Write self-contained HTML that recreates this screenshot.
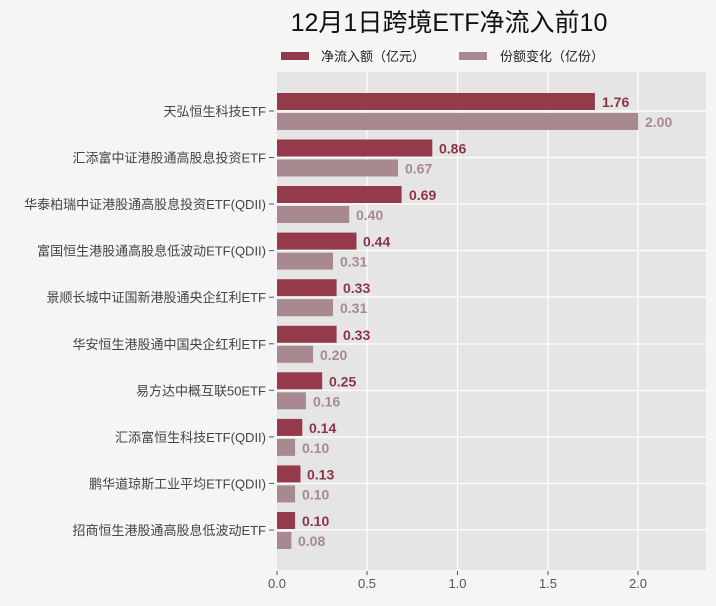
<!DOCTYPE html>
<html><head><meta charset="utf-8"><style>
html,body{margin:0;padding:0;background:#f5f5f5;}
svg{display:block;font-family:"Liberation Sans","Noto Sans CJK SC",sans-serif;}
.r{fill:#953a4a}.p{fill:#a98990}
.vr{fill:#8e3446;font-size:14px;font-weight:bold}
.vp{fill:#a98990;font-size:14px;font-weight:bold}
.lb{fill:#444;font-size:13px;text-anchor:end}
</style></head><body>
<svg width="716" height="606" xmlns="http://www.w3.org/2000/svg">
<rect width="716" height="606" fill="#f5f5f5"/>
<text x="449" y="31" font-size="25" text-anchor="middle" fill="#111">12月1日跨境ETF净流入前10</text>
<rect x="281" y="52" width="28" height="8" fill="#953a4a"/>
<text x="321" y="61" font-size="13" fill="#222">净流入额（亿元）</text>
<rect x="459" y="52" width="28" height="8" fill="#a98990"/>
<text x="500" y="61" font-size="13" fill="#222">份额变化（亿份）</text>
<rect x="277" y="72" width="429" height="498" fill="#e5e5e5"/>
<g stroke="#fff" stroke-width="1.2">
<line x1="367" y1="72" x2="367" y2="570"/><line x1="457.5" y1="72" x2="457.5" y2="570"/>
<line x1="548" y1="72" x2="548" y2="570"/><line x1="638" y1="72" x2="638" y2="570"/>
<line x1="277" y1="111" x2="706" y2="111"/><line x1="277" y1="157.5" x2="706" y2="157.5"/>
<line x1="277" y1="204" x2="706" y2="204"/><line x1="277" y1="250.5" x2="706" y2="250.5"/>
<line x1="277" y1="297" x2="706" y2="297"/><line x1="277" y1="344" x2="706" y2="344"/>
<line x1="277" y1="390.5" x2="706" y2="390.5"/><line x1="277" y1="437" x2="706" y2="437"/>
<line x1="277" y1="483.5" x2="706" y2="483.5"/><line x1="277" y1="530" x2="706" y2="530"/>
</g>

<g transform="translate(0,111)">
<rect class="r" x="277" y="-18" width="317.9" height="17"/><rect class="p" x="277" y="2" width="361.2" height="17"/>
<text class="vr" x="602" y="-4">1.76</text><text class="vp" x="645" y="16">2.00</text>
<text class="lb" x="266" y="5">天弘恒生科技ETF</text><line x1="269" y1="0" x2="274" y2="0" stroke="#555"/></g>

<g transform="translate(0,157.5)">
<rect class="r" x="277" y="-18" width="155.3" height="17"/><rect class="p" x="277" y="2" width="121" height="17"/>
<text class="vr" x="439" y="-4">0.86</text><text class="vp" x="405" y="16">0.67</text>
<text class="lb" x="266" y="5">汇添富中证港股通高股息投资ETF</text><line x1="269" y1="0" x2="274" y2="0" stroke="#555"/></g>

<g transform="translate(0,204)">
<rect class="r" x="277" y="-18" width="124.6" height="17"/><rect class="p" x="277" y="2" width="72.2" height="17"/>
<text class="vr" x="409" y="-4">0.69</text><text class="vp" x="356" y="16">0.40</text>
<text class="lb" x="266" y="5">华泰柏瑞中证港股通高股息投资ETF(QDII)</text><line x1="269" y1="0" x2="274" y2="0" stroke="#555"/></g>

<g transform="translate(0,250.6)">
<rect class="r" x="277" y="-18" width="79.5" height="17"/><rect class="p" x="277" y="2" width="56" height="17"/>
<text class="vr" x="363" y="-4">0.44</text><text class="vp" x="340" y="16">0.31</text>
<text class="lb" x="266" y="5">富国恒生港股通高股息低波动ETF(QDII)</text><line x1="269" y1="0" x2="274" y2="0" stroke="#555"/></g>

<g transform="translate(0,297.2)">
<rect class="r" x="277" y="-18" width="59.6" height="17"/><rect class="p" x="277" y="2" width="56" height="17"/>
<text class="vr" x="343" y="-4">0.33</text><text class="vp" x="340" y="16">0.31</text>
<text class="lb" x="266" y="5">景顺长城中证国新港股通央企红利ETF</text><line x1="269" y1="0" x2="274" y2="0" stroke="#555"/></g>

<g transform="translate(0,343.8)">
<rect class="r" x="277" y="-18" width="59.6" height="17"/><rect class="p" x="277" y="2" width="36.1" height="17"/>
<text class="vr" x="343" y="-4">0.33</text><text class="vp" x="320" y="16">0.20</text>
<text class="lb" x="266" y="5">华安恒生港股通中国央企红利ETF</text><line x1="269" y1="0" x2="274" y2="0" stroke="#555"/></g>

<g transform="translate(0,390.3)">
<rect class="r" x="277" y="-18" width="45.2" height="17"/><rect class="p" x="277" y="2" width="28.9" height="17"/>
<text class="vr" x="329" y="-4">0.25</text><text class="vp" x="313" y="16">0.16</text>
<text class="lb" x="266" y="5">易方达中概互联50ETF</text><line x1="269" y1="0" x2="274" y2="0" stroke="#555"/></g>

<g transform="translate(0,436.9)">
<rect class="r" x="277" y="-18" width="25.3" height="17"/><rect class="p" x="277" y="2" width="18.1" height="17"/>
<text class="vr" x="309" y="-4">0.14</text><text class="vp" x="302" y="16">0.10</text>
<text class="lb" x="266" y="5">汇添富恒生科技ETF(QDII)</text><line x1="269" y1="0" x2="274" y2="0" stroke="#555"/></g>

<g transform="translate(0,483.4)">
<rect class="r" x="277" y="-18" width="23.5" height="17"/><rect class="p" x="277" y="2" width="18.1" height="17"/>
<text class="vr" x="307" y="-4">0.13</text><text class="vp" x="302" y="16">0.10</text>
<text class="lb" x="266" y="5">鹏华道琼斯工业平均ETF(QDII)</text><line x1="269" y1="0" x2="274" y2="0" stroke="#555"/></g>

<g transform="translate(0,530)">
<rect class="r" x="277" y="-18" width="18.1" height="17"/><rect class="p" x="277" y="2" width="14.4" height="17"/>
<text class="vr" x="302" y="-4">0.10</text><text class="vp" x="298" y="16">0.08</text>
<text class="lb" x="266" y="5">招商恒生港股通高股息低波动ETF</text><line x1="269" y1="0" x2="274" y2="0" stroke="#555"/></g>

<g font-size="13" fill="#555" text-anchor="middle">
<text x="277" y="588">0.0</text><text x="367" y="588">0.5</text><text x="457.5" y="588">1.0</text><text x="548" y="588">1.5</text><text x="638" y="588">2.0</text>
</g>
<g stroke="#555"><line x1="277" y1="571" x2="277" y2="575"/><line x1="367" y1="571" x2="367" y2="575"/><line x1="457.5" y1="571" x2="457.5" y2="575"/><line x1="548" y1="571" x2="548" y2="575"/><line x1="638" y1="571" x2="638" y2="575"/></g>
</svg>
</body></html>
